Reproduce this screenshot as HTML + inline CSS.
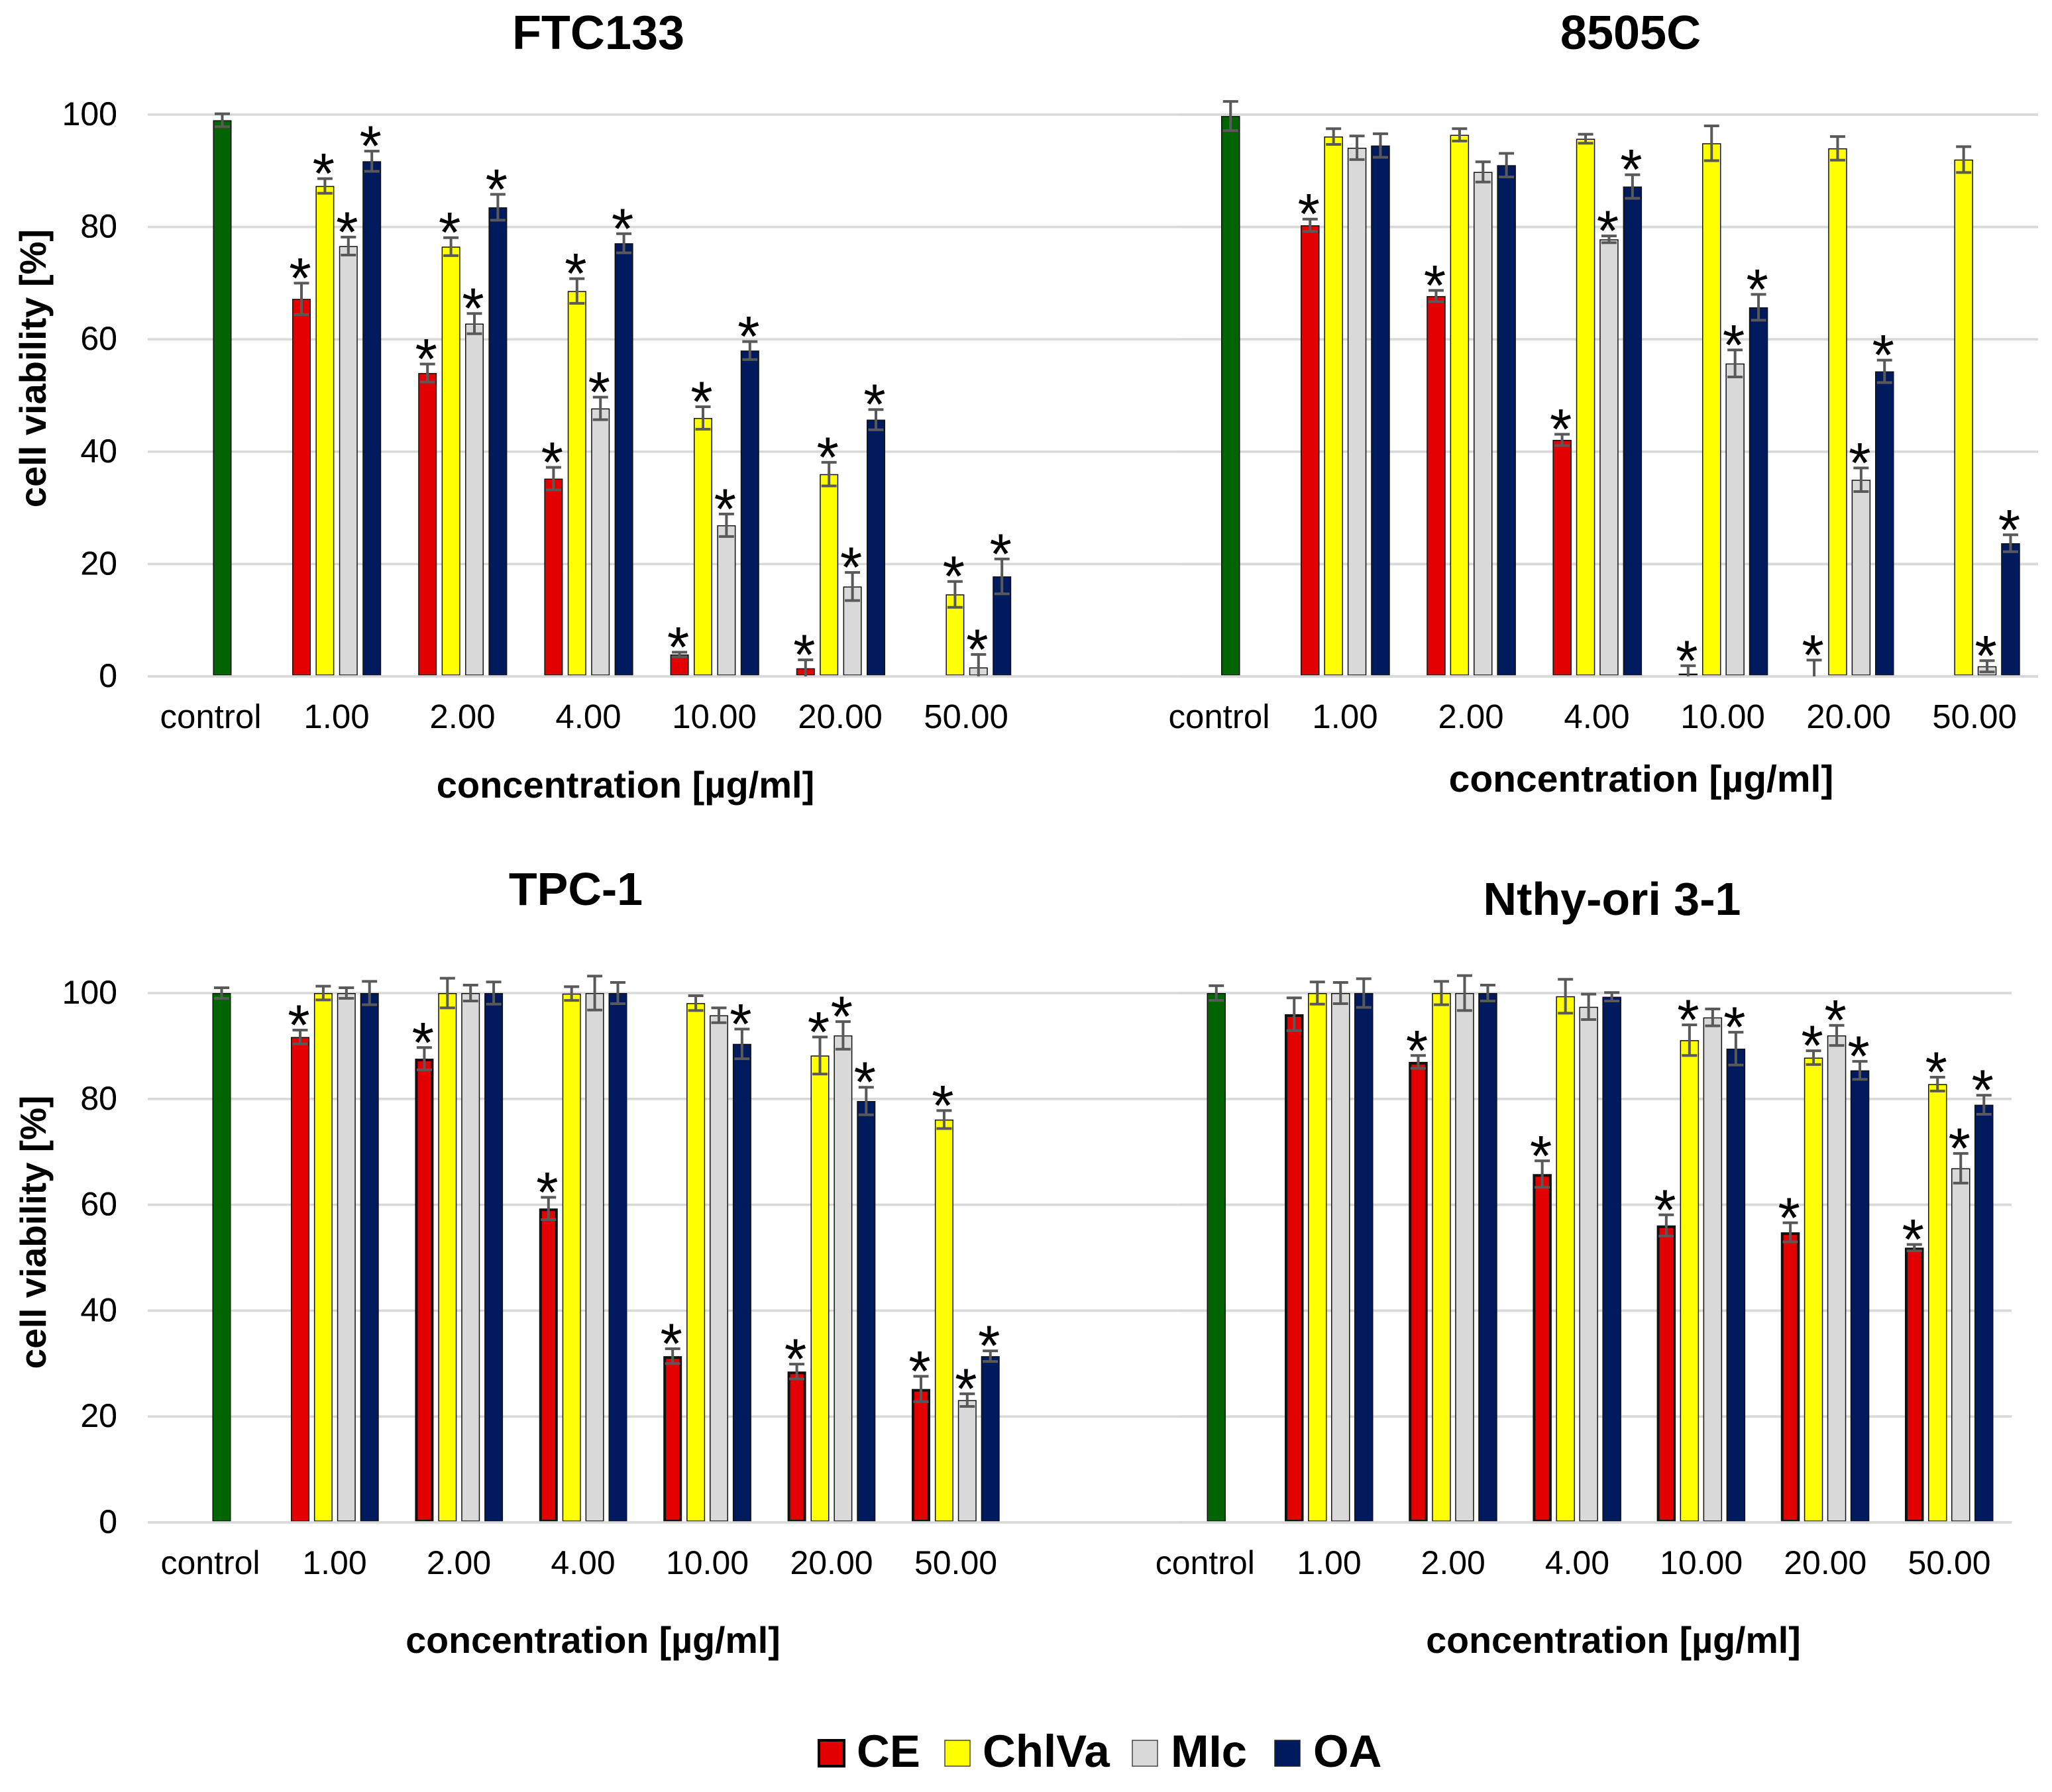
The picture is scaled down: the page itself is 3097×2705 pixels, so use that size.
<!DOCTYPE html>
<html lang="en">
<head>
<meta charset="utf-8">
<title>Cell viability charts</title>
<style>
html,body{margin:0;padding:0;background:#fff;}
svg{display:block;font-family:"Liberation Sans",Arial,sans-serif;}
</style>
</head>
<body>
<svg id="figure" xmlns="http://www.w3.org/2000/svg" width="3097" height="2705" viewBox="0 0 3097 2705">
<rect width="3097" height="2705" fill="#fff"/>
<g id="charts"></g>
<g font-weight="700" font-size="69">
<rect x="1236" y="2627" width="38" height="39" fill="#E30000" stroke="#000" stroke-width="4"/>
<text x="1293" y="2667">CE</text>
<rect x="1426" y="2627" width="38" height="39" fill="#FFFF00" stroke="#444" stroke-width="1.5"/>
<text x="1483" y="2667">ChlVa</text>
<rect x="1709" y="2627" width="38" height="39" fill="#D9D9D9" stroke="#444" stroke-width="1.5"/>
<text x="1767" y="2667">MIc</text>
<rect x="1924" y="2627" width="38" height="39" fill="#001A5E" stroke="#222" stroke-width="1.5"/>
<text x="1982" y="2667">OA</text>
</g>
</svg>
<script>
const categories = ['1.00','2.00','4.00','10.00','20.00','50.00'];
const controlLabel = 'control';
const yTicks = [0,20,40,60,80,100];
const seriesNames = ['CE','ChlVa','MIc','OA'];

const ftcControl = 99;
const ftcControlErr = 1.15;
const ftcCE = [67.2,54,35.2,3.9,1.45,null];
const ftcCEErr = [2.8,1.6,2,0.4,1.5,0];
const ftcCEStar = [1,1,1,1,1,0];
const ftcChlVa = [87.3,76.5,68.6,46,36,14.6];
const ftcChlVaErr = [1.3,1.6,2.2,2,2.1,2.3];
const ftcChlVaStar = [1,1,1,1,1,1];
const ftcMIc = [76.6,62.8,47.7,26.9,16,1.6];
const ftcMIcErr = [1.6,1.8,2,2,2.5,2.3];
const ftcMIcStar = [1,1,1,1,1,1];
const ftcOA = [91.7,83.5,77.1,58,45.7,17.8];
const ftcOAErr = [1.8,2.3,1.7,1.6,1.8,3.1];
const ftcOAStar = [1,1,1,1,1,1];

const c85Control = 99.75;
const c85ControlErr = 2.6;
const c85CE = [80.3,67.7,42.1,0.5,0,null];
const c85CEErr = [1.1,1,1,1.4,2.9,0];
const c85CEStar = [1,1,1,1,1,0];
const c85ChlVa = [96.1,96.4,95.7,94.9,94,92];
const c85ChlVaErr = [1.4,1.1,0.8,3.1,2.1,2.3];
const c85ChlVaStar = [0,0,0,0,0,0];
const c85MIc = [94.1,89.8,77.8,55.7,35,1.8];
const c85MIcErr = [2.1,1.8,0.6,2.4,2.1,1];
const c85MIcStar = [0,0,1,1,1,1];
const c85OA = [94.5,91,87.2,65.7,54.3,23.7];
const c85OAErr = [2.1,2.1,2.1,2.3,2,1.5];
const c85OAStar = [0,0,1,1,1,1];

const tpcControl = 100;
const tpcControlErr = 1;
const tpcCE = [91.7,87.6,59.3,31.4,28.5,25.2];
const tpcCEErr = [1.3,2.1,2.1,1.4,1.4,2.4];
const tpcCEStar = [1,1,1,1,1,1];
const tpcChlVa = [100,100,99.9,98.1,88.2,76.1];
const tpcChlVaErr = [1.3,2.8,1.3,1.4,3.5,1.7];
const tpcChlVaStar = [0,0,0,0,1,1];
const tpcMIc = [100,100,100,95.8,92,23.1];
const tpcMIcErr = [1,1.5,3.2,1.4,2.6,1.2];
const tpcMIcStar = [0,0,0,0,1,1];
const tpcOA = [100,100,100,90.4,79.6,31.4];
const tpcOAErr = [2.2,2.1,2,2.8,2.6,1];
const tpcOAStar = [0,0,0,1,1,1];

const nthControl = 100;
const nthControlErr = 1.4;
const nthCE = [96,87,65.8,56.1,54.8,51.9];
const nthCEErr = [3.1,1.2,2.5,2,1.8,0.6];
const nthCEStar = [0,1,1,1,1,1];
const nthChlVa = [100,100,99.4,91.1,87.8,82.8];
const nthChlVaErr = [2.1,2.2,3.2,2.9,1.3,1.3];
const nthChlVaStar = [0,0,0,1,1,1];
const nthMIc = [100,100,97.4,95.4,92,66.9];
const nthMIcErr = [2,3.3,2.4,1.6,1.9,2.8];
const nthMIcStar = [0,0,0,0,1,1];
const nthOA = [100,100,99.3,89.5,85.4,78.9];
const nthOAErr = [2.7,1.5,0.8,3.1,1.7,1.8];
const nthOAStar = [0,0,0,1,1,1];

const NS = 'http://www.w3.org/2000/svg';
const root = document.getElementById('charts');
const seriesColors = ['#E30000','#FFFF00','#D9D9D9','#001A5E'];

function make(parent, tag, attrs, text) {
  const el = document.createElementNS(NS, tag);
  for (const k in attrs) el.setAttribute(k, attrs[k]);
  if (text !== undefined) el.textContent = text;
  parent.appendChild(el);
  return el;
}

function drawPanel(p) {
  const g = make(root, 'g', {});
  
  
  const yScale = v => p.y0 - v * (p.y0 - p.y100) / 100;
  const groupX = i => p.firstX + p.groupStep * i;
  const barX = (i, s) => groupX(i) + p.barStep * s;
  const labelX = i => p.labelX0 + p.labelStep * i;

  const t = make(g, 'text', {x: p.titleX, y: p.titleY, 'font-size': p.titleSize, 'font-weight': 700, 'text-anchor': 'middle'}, p.title);
  
  

  yTicks.forEach(v => {
    const line = make(g, 'line', {x1: p.gridX0, x2: p.gridX1, y1: yScale(v), y2: yScale(v), stroke: '#D9D9D9', 'stroke-width': 3.6});
    
    
    const lab = make(g, 'text', {x: 177, y: yScale(v) + 16, 'font-size': 50, 'text-anchor': 'end'}, String(v));
    
    
  });

  const yt = make(g, 'text', {transform: 'translate(69,' + p.yTitleY + ') rotate(-90)', 'font-size': p.yTitleSize, 'font-weight': 700, 'text-anchor': 'middle'}, 'cell viability [%]');
  
  

  const xt = make(g, 'text', {x: p.xTitleX, y: p.xTitleY, 'font-size': p.xTitleSize, 'font-weight': 700, 'text-anchor': 'middle'}, 'concentration [\u00b5g/ml]');
  
  

  const cl = make(g, 'text', {x: labelX(-1), y: p.labelY, 'font-size': p.labelSize, 'text-anchor': 'middle'}, controlLabel);
  
  
  categories.forEach((c, i) => {
    const lab = make(g, 'text', {x: labelX(i), y: p.labelY, 'font-size': p.labelSize, 'text-anchor': 'middle'}, c);
    
    
  });

  function errorBar(cx, value, err) {
    const top = yScale(value + err);
    const low = value - err;
    const bottom = yScale(Math.max(low, 0));
    const eg = make(g, 'g', {stroke: '#595959', 'stroke-width': 4, fill: 'none'});
    
    
    make(eg, 'line', {x1: cx, x2: cx, y1: top, y2: bottom});
    make(eg, 'line', {x1: cx - 11.5, x2: cx + 11.5, y1: top, y2: top});
    if (low > 0) make(eg, 'line', {x1: cx - 11.5, x2: cx + 11.5, y1: bottom, y2: bottom});
  }

  function bar(x, value, fill, strokeW, name) {
    const top = yScale(value);
    const h = p.y0 - 2 - top;
    if (h <= 0) return;
    const rect = make(g, 'rect', {x: x + strokeW / 2, y: top + strokeW / 2, width: p.barW - strokeW, height: Math.max(h - strokeW / 2, 0.5), fill: fill, stroke: '#111', 'stroke-width': strokeW});
    
    
  }

  bar(p.controlX, p.control, '#006400', 1.5, 'bar-control');
  p.values.forEach((vals, s) => {
    vals.forEach((v, i) => {
      if (v === null) return;
      const thick = s === 0 && i >= p.ceThickFrom;
      bar(barX(i, s), v, seriesColors[s], thick ? 4 : 1.5, 'bar-' + seriesNames[s].toLowerCase() + '-' + categories[i]);
    });
  });

  const axis = make(g, 'line', {x1: p.gridX0, x2: p.gridX1, y1: p.y0, y2: p.y0, stroke: '#D9D9D9', 'stroke-width': 3.6});
  
  

  errorBar(p.controlX + p.barW / 2, p.control, p.controlErr);
  p.values.forEach((vals, s) => {
    vals.forEach((v, i) => {
      if (v === null) return;
      const cx = barX(i, s) + p.barW / 2;
      errorBar(cx, v, p.errs[s][i]);
      if (p.stars[s][i]) {
        const star = make(g, 'text', {x: cx - 2, y: yScale(v + p.errs[s][i]) + 22, 'font-size': 86, 'font-weight': 400, 'text-anchor': 'middle'}, '*');
        
        
      }
    });
  });
}

drawPanel({key:'ftc133', title:'FTC133', titleX:903, titleY:74, titleSize:72,
  y0:1021, y100:173, gridX0:223, gridX1:3076, firstX:441, groupStep:190.2, barStep:35.4, barW:28, controlX:321.5,
  labelX0:508, labelStep:190, labelY:1099, labelSize:51, yTitleY:556, yTitleSize:56, xTitleX:944, xTitleY:1204, xTitleSize:56, ceThickFrom:99,
  control:ftcControl, controlErr:ftcControlErr,
  values:[ftcCE,ftcChlVa,ftcMIc,ftcOA], errs:[ftcCEErr,ftcChlVaErr,ftcMIcErr,ftcOAErr], stars:[ftcCEStar,ftcChlVaStar,ftcMIcStar,ftcOAStar]});

drawPanel({key:'8505c', title:'8505C', titleX:2461, titleY:74, titleSize:72,
  y0:1021, y100:173, gridX0:1780, gridX1:3076, firstX:1963, groupStep:190.2, barStep:35.4, barW:28.5, controlX:1843,
  labelX0:2030, labelStep:190, labelY:1099, labelSize:51, yTitleY:-400, yTitleSize:0, xTitleX:2477, xTitleY:1195, xTitleSize:57, ceThickFrom:99,
  control:c85Control, controlErr:c85ControlErr,
  values:[c85CE,c85ChlVa,c85MIc,c85OA], errs:[c85CEErr,c85ChlVaErr,c85MIcErr,c85OAErr], stars:[c85CEStar,c85ChlVaStar,c85MIcStar,c85OAStar]});

drawPanel({key:'tpc1', title:'TPC-1', titleX:869, titleY:1366, titleSize:70,
  y0:2298, y100:1499, gridX0:223, gridX1:3036, firstX:439, groupStep:187.4, barStep:34.9, barW:28, controlX:320.5,
  labelX0:505, labelStep:187.5, labelY:2376, labelSize:50, yTitleY:1860, yTitleSize:55, xTitleX:895, xTitleY:2495, xTitleSize:55.5, ceThickFrom:1,
  control:tpcControl, controlErr:tpcControlErr,
  values:[tpcCE,tpcChlVa,tpcMIc,tpcOA], errs:[tpcCEErr,tpcChlVaErr,tpcMIcErr,tpcOAErr], stars:[tpcCEStar,tpcChlVaStar,tpcMIcStar,tpcOAStar]});

drawPanel({key:'nthy-ori', title:'Nthy-ori 3-1', titleX:2433, titleY:1381, titleSize:70,
  y0:2298, y100:1499, gridX0:1780, gridX1:3036, firstX:1939, groupStep:187.2, barStep:35, barW:28.5, controlX:1821.5,
  labelX0:2006, labelStep:187.2, labelY:2376, labelSize:50, yTitleY:-400, yTitleSize:0, xTitleX:2435, xTitleY:2495, xTitleSize:55.5, ceThickFrom:0,
  control:nthControl, controlErr:nthControlErr,
  values:[nthCE,nthChlVa,nthMIc,nthOA], errs:[nthCEErr,nthChlVaErr,nthMIcErr,nthOAErr], stars:[nthCEStar,nthChlVaStar,nthMIcStar,nthOAStar]});
</script>
</body>
</html>
